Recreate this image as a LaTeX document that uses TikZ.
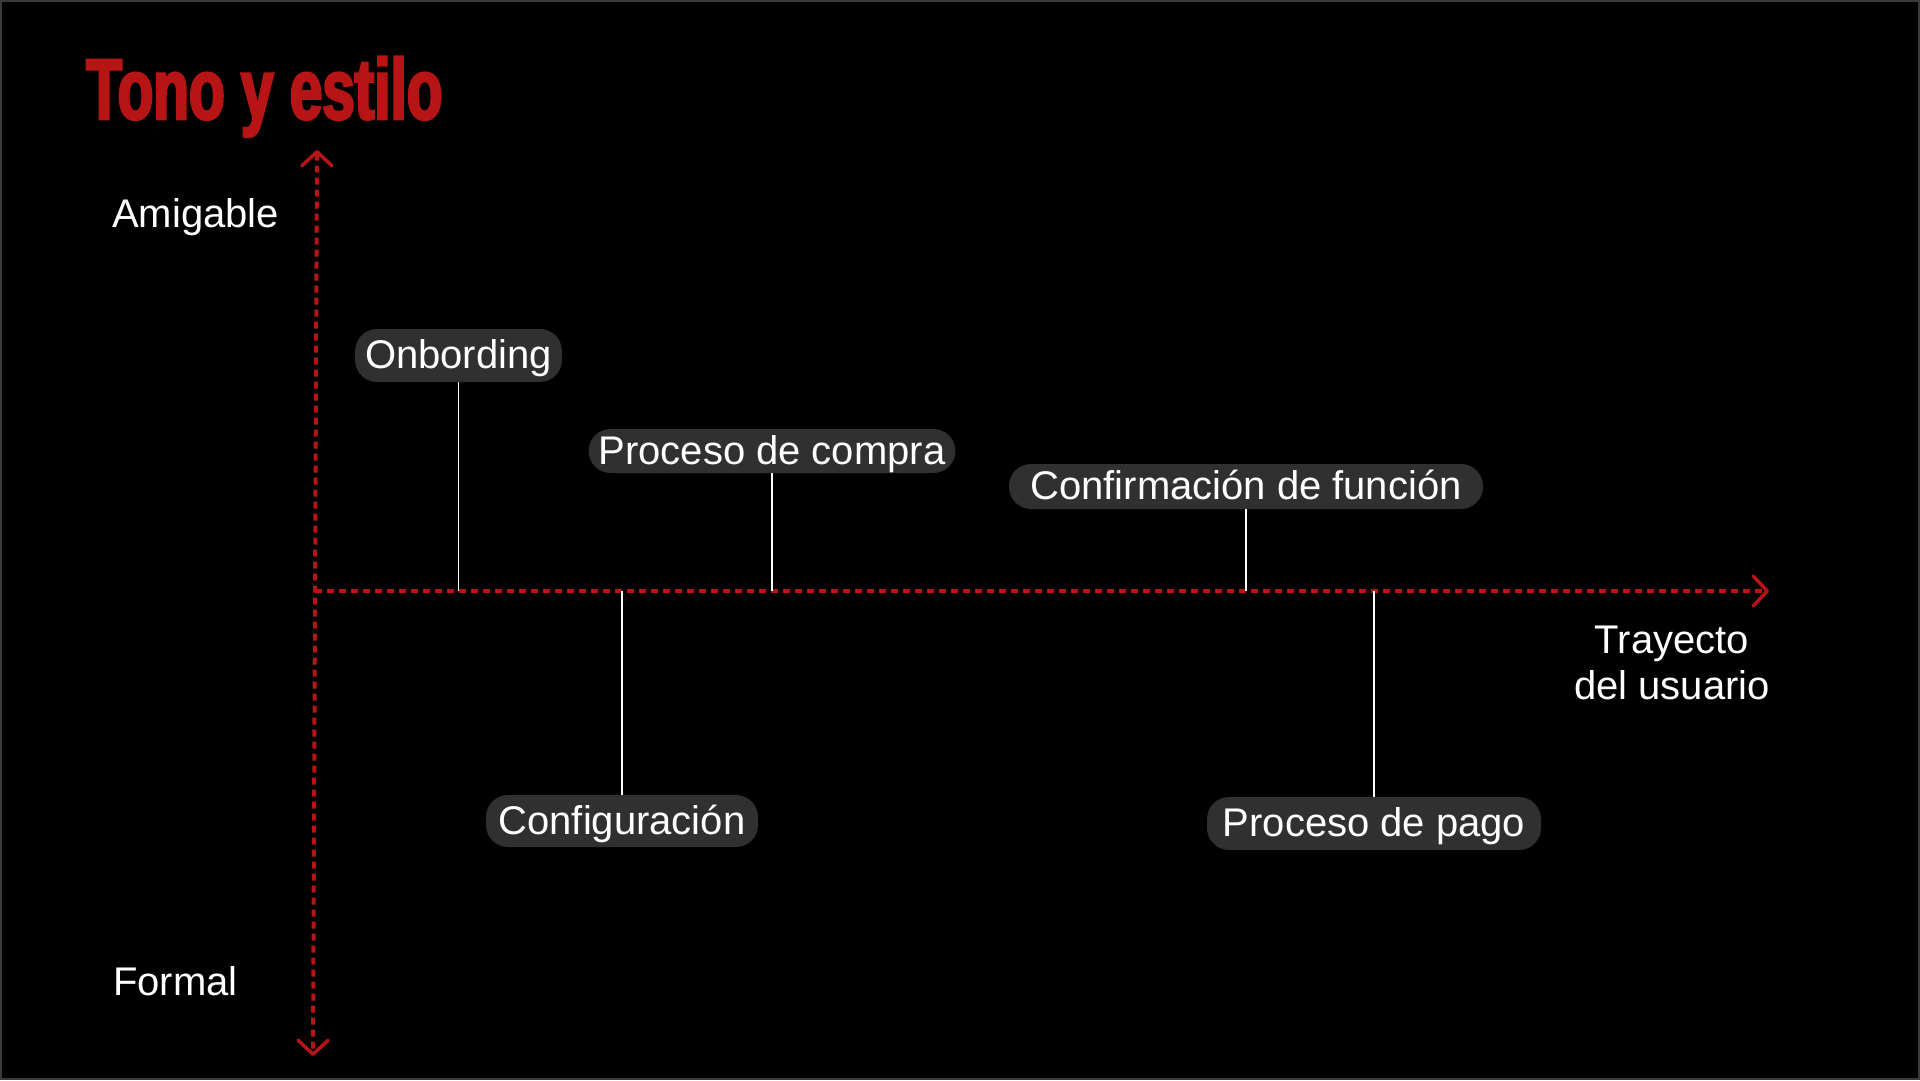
\documentclass[tikz,border=0pt]{standalone}
\usepackage{fontspec}
\setmainfont{Liberation Sans}
\newfontfamily\titlefont[FakeStretch=0.68,FakeBold=3]{Liberation Sans Bold}
\newcommand\pillfont{\fontsize{40}{46}\selectfont}
\usetikzlibrary{arrows.meta}
\definecolor{brandred}{HTML}{B71515}
\definecolor{pillgray}{HTML}{303030}
\definecolor{framegray}{HTML}{3A3A3A}
\tikzset{
  barb/.tip={Straight Barb[length=14pt,width=30pt,line width=3.5pt,round]},
  axis/.style={brandred, line width=4pt, dash pattern=on 7pt off 5pt},
  pill/.style={fill=pillgray, text=white, rounded corners=22pt, inner xsep=10pt, inner ysep=0pt,
    text height=30pt, text depth=4pt, font=\pillfont},
  stem/.style={white, line width=1.2pt},
  axislabel/.style={text=white, font=\pillfont, inner sep=0pt}
}

\begin{document}
\begin{tikzpicture}[x=1pt, y=-1pt]
\useasboundingbox (0,0) rectangle (1920,1080);
\fill[black] (0,0) rectangle (1920,1080);
\draw[framegray, line width=2pt] (1,1) rectangle (1919,1079);

\node[anchor=base west, inner sep=0pt, text=brandred, font=\titlefont\fontsize{86}{90}\selectfont] (title) at (86,119) {Tono y estilo};

\coordinate (top) at (317,150);
\coordinate (bottom) at (313,1056);
\coordinate (origin) at (315,591);
\coordinate (right) at (1769,591);
\draw[axis, barb-barb] (top) -- (bottom);
\draw[axis, -barb] (origin) -- (right);

\node[axislabel, anchor=base west] (friendly) at (112,227) {Amigable};
\node[axislabel, anchor=base west] (formal) at (113,995) {Formal};
\node[axislabel, anchor=base, align=center] (journey) at (1672,699) {Trayecto\\del usuario};

\node[pill, minimum width=201pt, minimum height=53pt] (onb) at (458.5,355.5) {Onbording};
\node[pill, minimum width=360pt, minimum height=44pt] (buy) at (772,451) {Proceso de compra};
\node[pill, minimum width=474pt, minimum height=45pt] (confirm) at (1246,486.5) {Confirmación de función};
\node[pill, minimum width=272pt, minimum height=52pt] (setup) at (622,821) {Configuración};
\node[pill, minimum width=334pt, minimum height=53pt] (pay) at (1374,823.5) {Proceso de pago};

\draw[stem] (onb.south) -- (onb.south |- origin);
\draw[stem] (buy.south) -- (buy.south |- origin);
\draw[stem] (confirm.south) -- (confirm.south |- origin);
\draw[stem] (setup.north) -- (setup.north |- origin);
\draw[stem] (pay.north) -- (pay.north |- origin);
\end{tikzpicture}
\end{document}
